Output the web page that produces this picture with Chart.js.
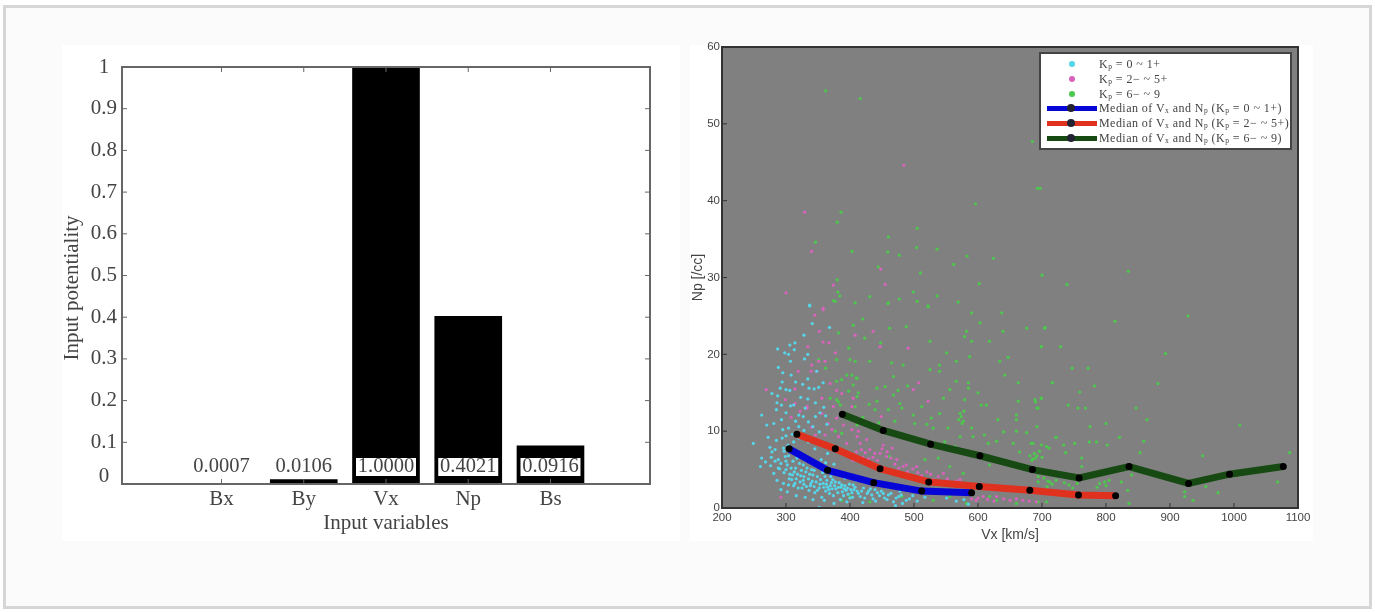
<!DOCTYPE html>
<html>
<head>
<meta charset="utf-8">
<script src="https://cdn.jsdelivr.net/npm/chart.js@4"></script>
<style>
  html, body { margin: 0; padding: 0; background: #fff; }
  #page { position: relative; width: 1375px; height: 612px; overflow: hidden; }
  #card { position: absolute; left: 3px; top: 5px; width: 1363px; height: 598px; background: #fbfbfb; border: 3px solid #d6d6d6; }
  .panel { position: absolute; background: #fff; }
  canvas { position: absolute; filter: blur(0.7px); }
  #legend { position: absolute; left: 1039px; top: 52px; width: 253px; height: 98px; box-sizing: border-box; background: #fff; border: 2px solid #444; filter: blur(0.6px); }
  #legend div { position: absolute; left: 58px; font: 12px "Liberation Serif", serif; letter-spacing: 0.45px; color: #444; white-space: nowrap; line-height: 14px; }
  #legend sub { font-size: 7.5px; line-height: 0; vertical-align: -1px; }
  #legend i { position: absolute; display: block; }
</style>
</head>
<body>
<div id="page">
  <div id="card"></div>
  <div class="panel" style="left:62px;top:45px;width:618px;height:496px"></div>
  <div class="panel" style="left:690px;top:45px;width:623px;height:496px"></div>
  <canvas id="barChart" style="left:62px;top:30px" width="618" height="515"></canvas>
  <canvas id="scatterChart" style="left:685px;top:30px" width="645" height="515"></canvas>
  <div id="legend"></div>
</div>
<script>
// left chart
const inputNames = ["Bx", "By", "Vx", "Np", "Bs"];
const inputValues = [0.0007, 0.0106, 1.0, 0.4021, 0.0916];
const inputLabels = ["0.0007", "0.0106", "1.0000", "0.4021", "0.0916"];

// right chart, medians as [Vx, Np]
const medianLow = [[305,7.7],[365,4.9],[437,3.3],[512,2.2],[590,2.0]];
const medianMid = [[317,9.6],[377,7.7],[447,5.1],[523,3.4],[602,2.8],[681,2.3],[757,1.7],[815,1.6]];
const medianHigh = [[388,12.2],[452,10.1],[526,8.3],[603,6.8],[685,5.0],[758,3.9],[836,5.4],[929,3.2],[993,4.4],[1077,5.4]];

// scatter
const pointsLow = [[337,26.4],[341,24],[368,23.5],[328,22.5],[287,20.7],[306,21.2],[314,21.5],[313,20.6],[298,20.2],[304,20],[334,20],[329,19.4],[307,19.1],[288,18.3],[295,17.6],[308,17.3],[348,17.8],[334,16.8],[315,16.4],[294,16.4],[326,16.1],[358,16.3],[291,15.6],[300,15.4],[306,15.3],[278,14.9],[336,15.6],[344,15.5],[351,15.7],[323,14.4],[287,14.6],[286,13.7],[293,13.4],[307,13.3],[334,14.2],[346,13.7],[330,13],[359,13.1],[337,26.3],
[262,12.1],[281,11],[270,10.8],[293,11.5],[320,12.1],[312,13.4],[346,11.9],[335,11.2],[320,10.6],[304,10.4],[294,9.1],[249,8.4],[278,7.3],[262,6.5],[268,6],[260,5.4],[281,4.5],[299,6.7],[285,8.8],[272,9.2],[300,9.4],[288,6.3],[276,5.5],[290,5.1],[297,4.6],[286,3.6],[296,3.2],[302,5.6],[306,4.4],[311,6.1],[315,5.2],[309,3.7],[318,4.4],[322,3.4],[327,5.6],[331,4.7],[335,3.8],[312,2.9],[325,2.6],[338,2.9],[342,4.3],[347,3.4],[352,2.6],[345,2],[358,3.2],[362,2.2],[356,1.4],[369,2.9],[373,3.7],[378,2.5],[383,3.3],[388,2.1],[392,2.9],[397,1.8],[401,2.4],[374,1.6],[385,1.1],[352,0.1],[405,3],[411,2.2],[416,1.5],[421,2.6],[427,1.9],[432,2.5],[436,1.2],[443,2],[449,2.2],[454,1.3],[460,1.7],[468,0.8],[476,1.5],[482,0.6],[471,0.3],[493,1.2],[505,0.9],[517,1.4],[551,1.3],[566,0.9],[578,1.1],[585,0.5],[318,7.2],[326,6.8],[340,6.1],[348,5.4],[355,6.3],[362,5.9],[370,4.1],[380,4.4],[392,3.9],[335,8.6],[345,7.7],[320,9.1],[303,8.2],[312,8.6],[356,8.2],[365,7.1],[375,5.7],[330,6.2],[310,7.8],[297,7.4],[283,7.6],[277,6.6],[292,5.8],[304,3],[316,3.8],[328,3.1],[341,3.5],[364,3.6],[404,1.4],[395,4],[410,3.6],[425,3.3],[440,3],[460,2.7],[478,2.2],
[300,6.1],[304,6.8],[308,5.2],[313,4.7],[317,6.5],[321,5.8],[324,4.9],[328,4.1],[333,5.2],[337,4.4],[339,3.2],[344,2.8],[349,4.1],[354,3.7],[359,2.7],[363,3.1],[367,2.4],[371,3.3],[376,2.9],[381,2],[386,2.7],[390,1.6],[394,2.3],[399,3.1],[403,2],[408,2.7],[413,1.9],[418,2.2],[423,1.3],[429,2.2],[434,1.7],[439,2.4],[446,1.6],[452,1.9],[458,1.1],[464,1.9],[472,1.3],[480,1.7],[488,1],[498,1.6],[300,5],[305,3.8],[310,4.3],[314,3.2],[319,2.6],[323,4.2],[327,3.6],[332,2.8],[336,2.3],[340,5],[344,4.9],[349,2.3],[353,3.1],[357,4.6],[361,4.1],[365,2.7],[368,1.9],[372,2.5],[377,3.4],[382,2.7],[387,3],[391,2.5],[396,2.6],[400,1.3],[406,2.4],[360,1],[375,0.6],[395,0.8],[420,0.7],[440,0.9],[292,2.4],[302,2.1],[316,1.6],[330,1.4],[342,1.1],[296,7.8],[288,5.2],[283,6.1],[275,7.9],[295,10.2],[310,9.6],[328,10.1],[342,10.6],[352,9.9],[364,10.9],[315,11.3],[327,11.9],[353,12.4],[362,12],[300,12.4],[285,12.8]];
const pointsMid = [[484,44.6],[329,38.5],[340,33.4],[448,31.1],[374,29],[455,29.1],[300,28],[358,26],[345,25.1],[358,25.8],[352,23],[358,21.6],[367,21.5],[334,21],[377,20.2],[340,18.6],[361,19.1],[351,19.1],[348,17.8],[339,17.8],[319,17.8],[369,16.2],[269,15.4],[387,14.9],[379,15.3],[405,14.3],[314,15.5],[299,14.1],[356,14.3],[314,13.6],[374,13.2],[333,13],[403,13.2],[408,22.5],
[436,23],[447,21],[491,20.8],[507,16.3],[499,15.4],[522,13.9],[449,11.9],[413,10],[431,7.6],[439,7.1],[447,7.1],[426,8.9],[416,8.4],[457,6.7],[473,6.3],[488,5.6],[608,1.5],[629,1.5],[650,1],[670,1],[691,0.8],[504,5.4],[520,4.7],[546,4.5],[572,3.7],[333,13.2],[356,12.3],[366,11],[379,11.7],[403,10.2],[330,9.3],[351,8.9],[411,9.3],[395,8.4],[382,9.3],[346,9.5],[361,9.5],[405,6.2],[420,6.6],[434,5.9],[452,8.2],[466,7.8],[480,4.4],[497,3.9],[530,3.7],[558,3.3],[590,1.2],[292,1.4],
[410,7.3],[418,7.6],[424,7.2],[429,6.4],[436,6.6],[443,6.2],[450,7.7],[458,7.3],[464,6.5],[470,5.7],[476,5.2],[483,5.4],[490,4.7],[498,5.1],[506,4.6],[512,4.2],[526,4.4],[538,4.1],[552,3.8],[566,3.5],[615,1.1],[640,1.2],[660,1.2],[680,0.9],[600,1.3],[597,1],[625,0.9],[390,10.8],[400,11.5],[372,10.2],[340,10.5],[322,12.6],[308,11.8]];
const pointsHigh = [[362,54.3],[416,53.3],[685,47.7],[693,41.6],[596,39.6],[386,38.5],[380,37.2],[505,36.4],[460,35.3],[346,34.6],[403,33.4],[459,33.3],[477,32.9],[504,33.9],[536,33.7],[583,32.8],[624,32.5],[562,31.7],[444,31.4],[510,30.6],[380,29.7],[602,29.2],[381,28.1],[499,28.1],[536,27.6],[384,27.6],[431,27.5],[374,27],[477,27.2],[408,26.7],[459,26.6],[505,26.9],[569,26.8],[522,26.2],
[697,41.6],[835,30.8],[700,30.3],[739,29.1],[928,25],[814,24.3],[705,23.5],[699,21],[729,21],[893,20.1],[747,18.2],[772,18.2],[716,16.3],[881,16.2],[782,15.9],[759,15.1],[699,14.3],[690,13.8],[692,13],[741,13.4],[756,13],[768,13],[847,13],[864,11.5],[1009,10.8],[775,10.6],[800,11],[722,9.2],[821,9.2],[686,8.4],[699,8.2],[734,8.2],[751,8.4],[774,8.6],[785,8.6],[802,8.2],[859,8.7],[711,7.8],[853,7.2],[737,7.2],[1087,7.2],[762,6.5],[951,6.8],[690,6.5],[684,6.2],[762,5.4],[1068,3.4],[840,4.3],[712,3.4],[694,3.4],[742,3],[798,3.4],[790,3.2],[824,3.4],[956,2.8],[975,2],[923,2.1],[936,1],[836,0.6],[834,2.3],[694,0.8],[923,1.5],
[420,24.6],[460,26.7],[522,26.3],[462,23.4],[488,23.6],[448,21.5],[423,22.1],[582,23],[579,22.3],[590,25.4],[637,25.4],[603,24.1],[676,23.4],[704,23.4],[639,23],[590,21.7],[618,21.7],[699,21],[525,21.7],[551,20.2],[566,19.1],[587,19.7],[634,19.1],[647,19.6],[408,19.1],[431,19.1],[465,18.9],[483,18.6],[540,18.6],[540,17.8],[525,18],[642,17.3],[468,17.1],[410,16.9],[403,17.3],[566,16.5],[585,16.3],[663,16.3],[716,16.3],[442,15.6],[413,15],[468,14.7],[585,15.6],[556,15.4],[579,14.1],[605,13.4],[613,13.4],[663,13.9],[699,14.3],[689,14.1],[694,13],[478,13.6],[442,13.9],[439,12.8],[460,12.8],[481,13],[499,12.1],[527,11.7],[540,12.3],[574,11.9],[577,11.3],[660,12.1],[660,11.5],[631,11.5],[590,10.4],[530,10.4],[553,10.4],[660,10],[501,11],[722,9.2],[572,9.3],[592,9.3],[629,8.7],[616,8.4],[655,8.4],[683,8.4],[707,8],[665,7.3],[462,6.7],[517,6.3],[538,6.5],[556,5.4],[618,5.6],[649,5.8],[686,6.4],[709,3.5],[694,4.1],[577,4.5],[431,0.8],[530,1],[582,0.6],[629,1],[707,0.8],[660,0.6],[618,1.5],[556,1.5],[481,1.5],
[382,22.8],[377,26.9],[405,23.8],[398,20.8],[379,19.3],[400,19.3],[351,19.3],[362,18.2],[395,17.3],[411,16.9],[387,16.7],[379,16.5],[405,16],[379,14.1],[369,14.3],[398,15.2],[411,14.5],[385,13.4],[408,13.2],[382,13.8],[398,11.5],[411,10.8],[377,10],[387,9.7],[400,1.5],[387,1],
[572,12.3],[575,11],[578,12.6],[570,11.5],[688,7.1],[692,6.8],[696,7.4],[700,6.6],[681,6.8],[703,3.9],[708,2.8],[716,3.1],[722,3.6],[735,3.3],[748,2.6],[755,3.2],[800,2.9],[786,2.7],[805,3.6],[470,11.3],[455,15.8],[475,15.3],[490,15.9],[512,13.2],[546,14.3],[600,15],[430,13.5],[420,11.8],[432,10.5],[445,11.1],[520,10.9],[548,8.6],[538,7.9],[564,8],[610,9.5],[640,9.9],[676,9.8],[692,10.6]];

const legendRows = [
  { text: "K<sub>p</sub> = 0 ~ 1+", color: "#55d5ea" },
  { text: "K<sub>p</sub> = 2&minus; ~ 5+", color: "#d962bd" },
  { text: "K<sub>p</sub> = 6&minus; ~ 9", color: "#4cc84c" },
  { text: "Median of V<sub>x</sub> and N<sub>p</sub> (K<sub>p</sub> = 0 ~ 1+)", color: "#0505d8", line: true },
  { text: "Median of V<sub>x</sub> and N<sub>p</sub> (K<sub>p</sub> = 2&minus; ~ 5+)", color: "#e0301e", line: true },
  { text: "Median of V<sub>x</sub> and N<sub>p</sub> (K<sub>p</sub> = 6&minus; ~ 9)", color: "#164a12", line: true }
];
const legendY = [10, 25, 40, 54, 69, 84];

const serif = "'Liberation Serif', serif";
const sans = "'Liberation Sans', sans-serif";

function toXY(list) {
  return list.map((p) => ({ x: p[0], y: p[1] }));
}

// Matlab style inward ticks and box
function frame(opts) {
  return {
    id: "frame",
    beforeDatasetsDraw(chart) {
      if (!opts.fill) return;
      const a = chart.chartArea;
      chart.ctx.fillStyle = opts.fill;
      chart.ctx.fillRect(a.left, a.top, a.width, a.height);
    },
    afterDatasetsDraw(chart) {
      const ctx = chart.ctx, a = chart.chartArea;
      ctx.save();
      ctx.strokeStyle = opts.color;
      ctx.lineWidth = 1;
      ctx.beginPath();
      chart.scales.x.ticks.forEach((t) => {
        const px = chart.scales.x.getPixelForValue(t.value);
        ctx.moveTo(px, a.bottom);
        ctx.lineTo(px, a.bottom - opts.tick);
        if (opts.allSides) {
          ctx.moveTo(px, a.top);
          ctx.lineTo(px, a.top + opts.tick);
        }
      });
      chart.scales.y.ticks.forEach((t) => {
        const py = chart.scales.y.getPixelForValue(t.value);
        ctx.moveTo(a.left, py);
        ctx.lineTo(a.left + opts.tick, py);
        if (opts.allSides) {
          ctx.moveTo(a.right, py);
          ctx.lineTo(a.right - opts.tick, py);
        }
      });
      ctx.stroke();
      ctx.lineWidth = opts.box;
      ctx.strokeRect(a.left, a.top, a.width, a.height);
      ctx.restore();
    }
  };
}

const barLabels = {
  id: "barLabels",
  afterDraw(chart) {
    const ctx = chart.ctx;
    const yPos = chart.scales.y.getPixelForValue(0) - 17;
    ctx.save();
    ctx.font = "20.5px " + serif;
    ctx.textAlign = "center";
    ctx.textBaseline = "middle";
    inputLabels.forEach((label, i) => {
      const px = chart.scales.x.getPixelForValue(i + 1);
      ctx.fillStyle = "#fff";
      ctx.fillRect(px - 30, yPos - 9, 60, 18);
      ctx.fillStyle = "#444";
      ctx.fillText(label, px, yPos);
    });
    // y title sits a little below the middle of the axis
    ctx.translate(10, 258);
    ctx.rotate(-Math.PI / 2);
    ctx.font = "21px " + serif;
    ctx.fillText("Input potentiality", 0, 0);
    ctx.restore();
  }
};

new Chart(document.getElementById("barChart"), {
  type: "bar",
  data: {
    datasets: [{
      data: inputValues.map((v, i) => ({ x: i + 1, y: v })),
      backgroundColor: "#000",
      barThickness: 67
    }]
  },
  options: {
    responsive: false,
    animation: false,
    layout: { padding: { top: 37, right: 30 } },
    plugins: { legend: { display: false }, tooltip: { enabled: false } },
    scales: {
      x: {
        type: "linear",
        offset: false,
        min: -0.21,
        max: 6.21,
        grid: { display: false, drawTicks: false },
        border: { display: false },
        afterBuildTicks(scale) {
          scale.ticks = inputNames.map((n, i) => ({ value: i + 1 }));
        },
        afterFit(scale) { scale.height = 61; },
        ticks: {
          autoSkip: false,
          maxRotation: 0,
          padding: 3,
          color: "#444",
          font: { family: serif, size: 21 },
          callback: (v) => inputNames[v - 1]
        },
        title: { display: true, text: "Input variables", color: "#444", font: { family: serif, size: 21 }, padding: { top: 0, bottom: 9 } }
      },
      y: {
        min: 0,
        max: 1,
        grid: { display: false, drawTicks: false },
        border: { display: false },
        afterFit(scale) { scale.width = 60; },
        ticks: {
          stepSize: 0.1,
          padding: 5,
          crossAlign: "center",
          color: "#444",
          font: (c) => ({ family: serif, size: 21, lineHeight: c.tick && c.tick.value === 0 ? 0.67 : 1.2 }),
          callback: (v) => (v === 0 ? ["0", ""] : String(+v.toFixed(1)))
        }
      }
    }
  },
  plugins: [frame({ color: "#666", tick: 5, box: 2, allSides: true }), barLabels]
});

function medianSet(list, color) {
  return {
    data: toXY(list),
    showLine: true,
    borderColor: color,
    borderWidth: 7,
    tension: 0,
    pointRadius: 3.5,
    pointBackgroundColor: "#000",
    pointBorderWidth: 0
  };
}
function pointSet(list, color) {
  return { data: toXY(list), showLine: false, pointRadius: 1.6, pointBackgroundColor: color, pointBorderWidth: 0 };
}

new Chart(document.getElementById("scatterChart"), {
  type: "scatter",
  data: {
    datasets: [
      medianSet(medianLow, "#0505d8"),
      medianSet(medianMid, "#e0301e"),
      medianSet(medianHigh, "#164a12"),
      pointSet(pointsLow, "#55d5ea"),
      pointSet(pointsMid, "#d962bd"),
      pointSet(pointsHigh, "#4cc84c")
    ]
  },
  options: {
    responsive: false,
    animation: false,
    layout: { padding: { top: 17, right: 32 } },
    plugins: { legend: { display: false }, tooltip: { enabled: false } },
    scales: {
      x: {
        min: 200,
        max: 1100,
        grid: { display: false, drawTicks: false },
        border: { display: false },
        afterFit(scale) { scale.height = 37; },
        ticks: { stepSize: 100, padding: 3, maxRotation: 0, color: "#444", font: { family: sans, size: 11.5 }, callback: (v) => String(v) },
        title: { display: true, text: "Vx [km/s]", color: "#444", font: { family: sans, size: 14 }, padding: { top: 0, bottom: 1 } }
      },
      y: {
        min: 0,
        max: 60,
        grid: { display: false, drawTicks: false },
        border: { display: false },
        afterFit(scale) { scale.width = 37; },
        ticks: { stepSize: 10, padding: 2, color: "#444", font: { family: sans, size: 11.5 } },
        title: { display: true, text: "Np [/cc]", color: "#444", font: { family: sans, size: 14 }, padding: { top: 5, bottom: 0 } }
      }
    }
  },
  plugins: [frame({ fill: "#808080", color: "#333", tick: 5, box: 2, allSides: false })]
});

// html legend, subscripts are easier here than on the canvas
const legendBox = document.getElementById("legend");
legendRows.forEach((row, i) => {
  const y = legendY[i];
  const label = document.createElement("div");
  label.innerHTML = row.text;
  label.style.top = y - 7 + "px";
  legendBox.appendChild(label);
  if (row.line) {
    const bar = document.createElement("i");
    bar.style.cssText = "left:6px;width:50px;height:5px;top:" + (y - 2.5) + "px;background:" + row.color;
    legendBox.appendChild(bar);
    const dot = document.createElement("i");
    dot.style.cssText = "left:26px;width:8px;height:8px;border-radius:4px;background:#223;top:" + (y - 4) + "px";
    legendBox.appendChild(dot);
  } else {
    const dot = document.createElement("i");
    dot.style.cssText = "left:28px;width:6px;height:6px;border-radius:3px;top:" + (y - 3) + "px;background:" + row.color;
    legendBox.appendChild(dot);
  }
});
</script>
</body>
</html>
